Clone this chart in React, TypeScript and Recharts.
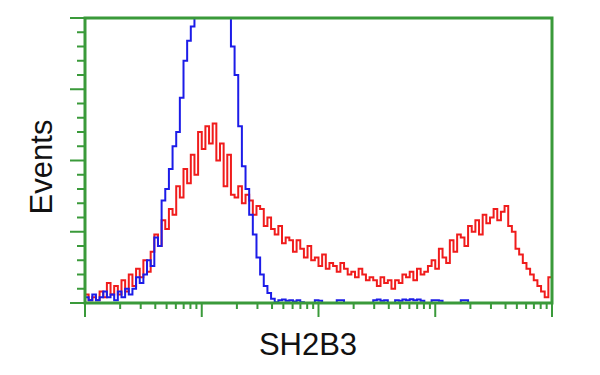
import React from 'react';
import { LineChart, Line, XAxis, YAxis, ReferenceArea } from 'recharts';

// Histogram bins (log-scaled channel index, 4 decades x 32 bins)
const binIndex: number[] = Array.from({ length: 129 }, (_, i) => i);

// Red histogram (SH2B3 transfected), % of full scale
const redCounts: number[] = [
  120, 3, 1, 2, 1, 4, 2, 7, 3, 6,
  3, 8, 4, 10, 6, 12, 9, 15, 11, 18,
  24, 20, 29, 26, 33, 31, 41, 37, 47, 42,
  52, 45, 60, 54, 62, 56, 63, 50, 56, 41,
  52, 38, 37, 41, 35, 38, 36, 31, 34, 33,
  27, 30, 26, 24, 27, 21, 23, 22, 18, 22,
  19, 16, 20, 15, 16, 13, 17, 12, 14, 13,
  11, 14, 12, 10, 11, 9, 12, 10, 8, 9,
  8, 6, 9, 7, 8, 5, 8, 7, 10, 9,
  11, 8, 12, 10, 11, 13, 15, 12, 19, 16,
  14, 22, 18, 24, 23, 20, 27, 25, 29, 24,
  31, 28, 30, 33, 29, 32, 34, 27, 25, 19,
  17, 14, 12, 10, 8, 6, 4, 2, 9,
];

// Blue histogram (control), % of full scale
const blueCounts: number[] = [
  30, 2, 1, 3, 1, 2, 4, 2, 3, 1,
  4, 2, 5, 3, 5, 9, 7, 10, 15, 13,
  23, 20, 36, 40, 47, 55, 60, 72, 85, 92,
  97, 120, 120, 120, 120, 120, 120, 120, 120, 120,
  120, 90, 80, 62, 48, 40, 31, 24, 16, 10,
  6, 3.5, 1.5, 0.3, 1, 1.2, 0.8, 1, 0.5, 1,
  0.3, 0, 0, 0, 1, 0.8, 0, 0, 0, 0,
  1, 1, 0, 0, 0, 0, 0, 0, 0, 0,
  1, 1.2, 0.8, 1, 0, 0, 1, 0.8, 1.2, 1,
  1.3, 1, 1.2, 0.8, 0, 0, 1, 1, 0.8, 0,
  0, 0, 0, 0, 1, 1, 0, 0, 0, 0,
  0, 0, 0, 0, 0, 0, 0, 0, 0, 0,
  0, 0, 0, 0, 0, 0, 0, 0, 0,
];

const xMajorTicks: number[] = [0, 32, 64, 96, 128];
const minorMultipliers: number[] = [2, 3, 4, 5, 6, 7, 8, 9];
const xTicks: number[] = [
  ...xMajorTicks,
  ...[0, 32, 64, 96].flatMap((d) => minorMultipliers.map((k) => d + 32 * Math.log10(k))),
].sort((a, b) => a - b);
const yMajorTicks: number[] = [0, 25, 50, 75, 100];
const yTicks: number[] = [0, 5, 10, 15, 20, 25, 30, 35, 40, 45, 50, 55, 60, 65, 70, 75, 80, 85, 90, 95, 100];

const xLabel = 'SH2B3';
const yLabel = 'Events';

const GREEN = '#3a9a3a';
const RED = '#f01c1c';
const BLUE = '#1c1ce8';

const data = binIndex.map((b, i) => ({ bin: b, red: redCounts[i], blue: blueCounts[i] }));

const XTick = (props: any) => {
  const { x, y, payload } = props;
  const major = xMajorTicks.some((t) => Math.abs(t - payload.value) < 1e-6);
  return <line x1={x} x2={x} y1={y} y2={y + (major ? 14 : 6)} stroke={GREEN} strokeWidth={2} />;
};

const YTick = (props: any) => {
  const { x, y, payload } = props;
  const major = yMajorTicks.includes(payload.value);
  return <line x1={x - (major ? 15 : 8)} x2={x} y1={y} y2={y} stroke={GREEN} strokeWidth={2} />;
};

export default function App() {
  return (
    <div style={{ position: 'absolute', left: 0, top: 0, width: 600, height: 375, background: '#fff' }}>
      <LineChart
        width={600}
        height={375}
        data={data}
        margin={{ top: 18, right: 48, bottom: 12, left: 25 }}
      >
        <XAxis
          dataKey="bin"
          type="number"
          domain={[0, 128]}
          ticks={xTicks}
          interval={0}
          tick={<XTick />}
          tickLine={false}
          axisLine={false}
          tickSize={0}
          tickMargin={0}
          height={60}
        />
        <YAxis
          type="number"
          domain={[0, 100]}
          allowDataOverflow
          ticks={yTicks}
          interval={0}
          tick={<YTick />}
          tickLine={false}
          axisLine={false}
          tickSize={0}
          tickMargin={0}
          width={60}
        />
        <ReferenceArea
          x1={0}
          x2={128}
          y1={0}
          y2={100}
          fill="none"
          fillOpacity={0}
          stroke={GREEN}
          strokeWidth={3}
          ifOverflow="visible"
          {...({ zIndex: 1000 } as any)}
        />
        <Line
          type="stepBefore"
          dataKey="red"
          stroke={RED}
          strokeWidth={2}
          dot={false}
          isAnimationActive={false}
        />
        <Line
          type="stepBefore"
          dataKey="blue"
          stroke={BLUE}
          strokeWidth={2}
          dot={false}
          isAnimationActive={false}
        />
      </LineChart>
      <svg
        width={600}
        height={375}
        style={{ position: 'absolute', left: 0, top: 0, pointerEvents: 'none' }}
      >
        <text
          x={308}
          y={355}
          textAnchor="middle"
          fontFamily="Liberation Sans, Arial, sans-serif"
          fontSize={31}
          fill="#111"
        >
          {xLabel}
        </text>
        <text
          transform="translate(52,167) rotate(-90)"
          textAnchor="middle"
          fontFamily="Liberation Sans, Arial, sans-serif"
          fontSize={31}
          fill="#111"
        >
          {yLabel}
        </text>
      </svg>
    </div>
  );
}
